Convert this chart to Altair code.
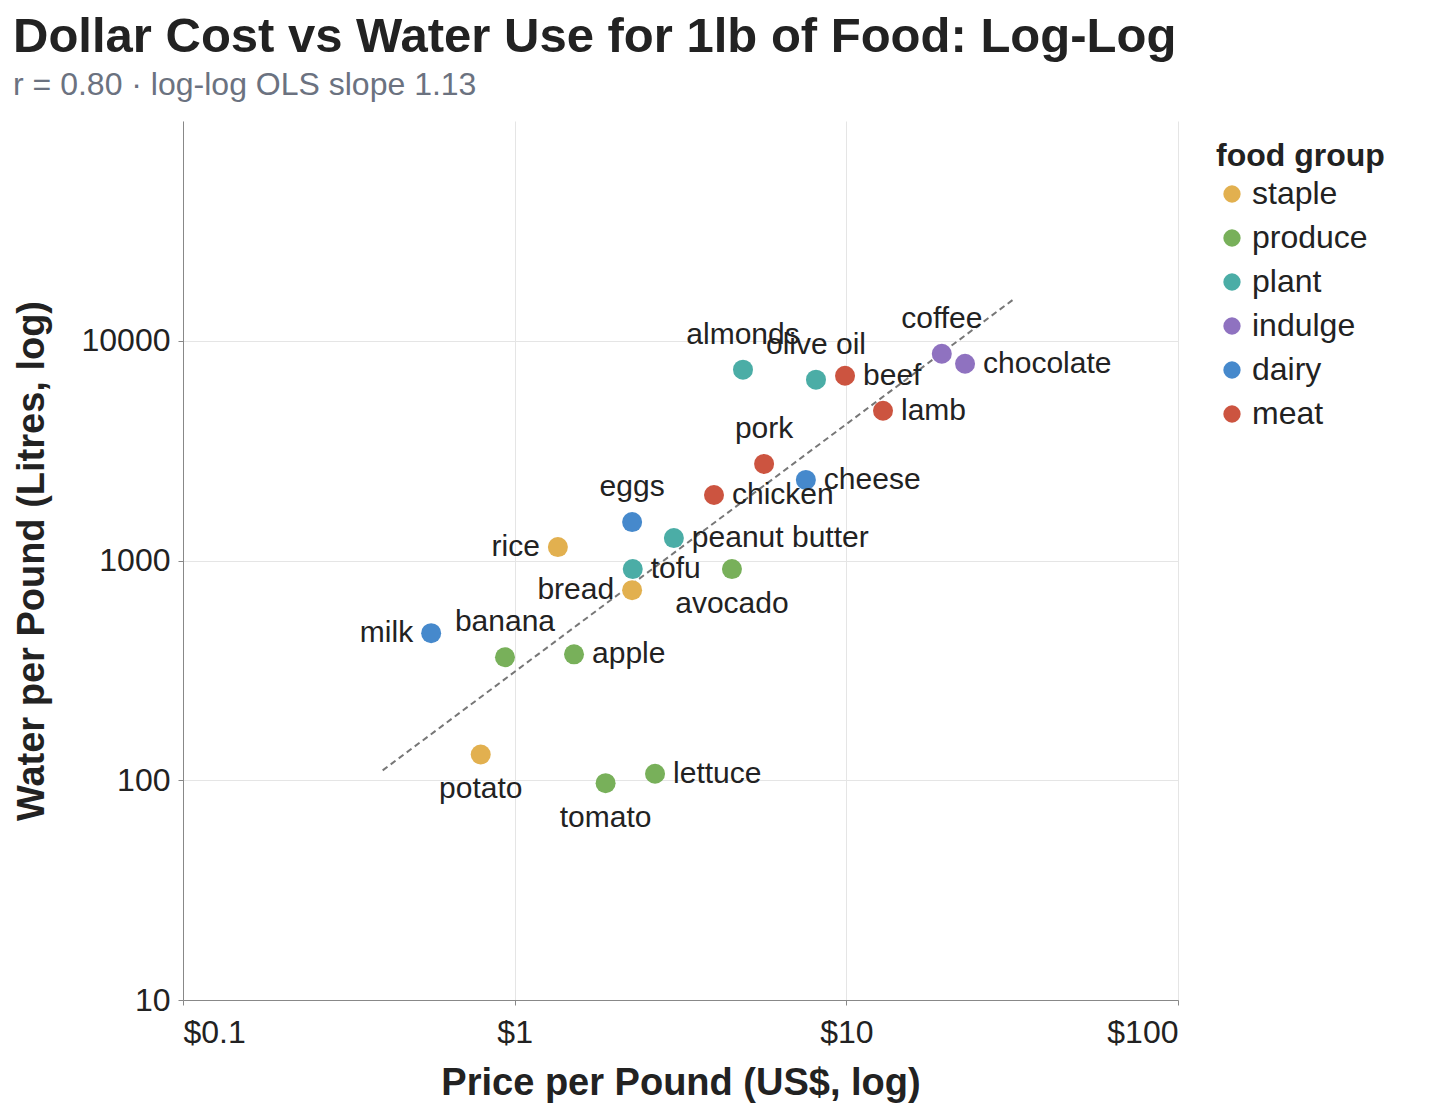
import altair as alt
import numpy as np
import pandas as pd

foods = ["milk", "banana", "apple", "potato", "tomato", "lettuce", "rice", "bread",
         "tofu", "eggs", "peanut butter", "avocado", "chicken", "pork", "cheese",
         "almonds", "olive oil", "beef", "lamb", "coffee", "chocolate"]
groups = ["dairy", "produce", "produce", "staple", "produce", "produce", "staple", "staple",
          "plant", "dairy", "plant", "produce", "meat", "meat", "dairy",
          "plant", "plant", "meat", "meat", "indulge", "indulge"]
price = [0.56, 0.935, 1.51, 0.79, 1.88, 2.65, 1.35, 2.26,
         2.27, 2.26, 3.02, 4.52, 3.99, 5.65, 7.55,
         4.88, 8.10, 9.91, 12.9, 19.4, 22.8]
water = [467, 363, 374, 131, 97, 107, 1151, 733,
         914, 1496, 1265, 914, 1987, 2752, 2326,
         7386, 6650, 6930, 4800, 8730, 7860]
label_side = ["left", "above", "right", "below", "below", "right", "left", "left",
              "right", "above", "right", "below", "right", "above", "right",
              "above", "above", "right", "right", "above", "right"]

group_order = ["staple", "produce", "plant", "indulge", "dairy", "meat"]
group_colors = ["#e2b04f", "#78b05a", "#4bada6", "#8f72c0", "#4689cc", "#cc5440"]

df = pd.DataFrame({"food": foods, "group": groups, "price": price,
                   "water": water, "side": label_side})

# log-log OLS fit
lx, ly = np.log10(df["price"]), np.log10(df["water"])
slope, intercept = np.polyfit(lx, ly, 1)
fit_x = [0.4, 32]
fit = pd.DataFrame({"price": fit_x,
                    "water": [10 ** (intercept + slope * np.log10(v)) for v in fit_x]})

font = "Liberation Sans"
xs = alt.Scale(type="log", domain=[0.1, 100])
ys = alt.Scale(type="log", domain=[10, 100000])

x = alt.X("price:Q", scale=xs, title="Price per Pound (US$, log)",
          axis=alt.Axis(values=[0.1, 1, 10, 100], labelExpr="'$' + datum.value",
                        grid=True))
y = alt.Y("water:Q", scale=ys, title="Water per Pound (Litres, log)",
          axis=alt.Axis(values=[10, 100, 1000, 10000], format="d", grid=True))

line = alt.Chart(fit).mark_line(color="#777", strokeDash=[6, 4], strokeWidth=2).encode(
    x=x, y=y)

points = alt.Chart(df).mark_circle(size=400, opacity=1).encode(
    x=x, y=y,
    color=alt.Color("group:N", scale=alt.Scale(domain=group_order, range=group_colors),
                    legend=alt.Legend(title="food group")),
)

offsets = {"right": dict(align="left", baseline="middle", dx=18, dy=0),
           "left": dict(align="right", baseline="middle", dx=-18, dy=0),
           "above": dict(align="center", baseline="bottom", dx=0, dy=-20),
           "below": dict(align="center", baseline="top", dx=0, dy=20)}
labels = [
    alt.Chart(df).transform_filter(alt.datum.side == side)
    .mark_text(fontSize=30, font=font, color="#222", **o)
    .encode(x=x, y=y, text="food:N")
    for side, o in offsets.items()
]

chart = alt.layer(line, points, *labels).properties(
    width=995, height=879,
    title=alt.Title("Dollar Cost vs Water Use for 1lb of Food: Log-Log",
                    subtitle=f"r = 0.80 · log-log OLS slope {slope:.2f}",
                    anchor="start", frame="bounds", fontSize=49, font=font,
                    color="#222", subtitleFontSize=32, subtitleFont=font,
                    subtitleColor="#6b7280", offset=20, subtitlePadding=8),
).configure_axis(
    labelFont=font, titleFont=font, labelFontSize=32, titleFontSize=38,
    labelColor="#222", titleColor="#222", gridColor="#e5e5e5", domainColor="#888",
    tickColor="#888", titlePadding=18,
).configure_axisY(
    titlePadding=30, labelPadding=8,
).configure_axisX(
    labelPadding=12, titlePadding=16,
).configure_legend(
    labelFont=font, titleFont=font, labelFontSize=32, titleFontSize=32,
    symbolSize=300, labelColor="#222", titleColor="#222", rowPadding=12,
    padding=20,
).configure_view(strokeOpacity=0)

chart.save("out.html", embed_options={"renderer": "svg", "actions": False})
